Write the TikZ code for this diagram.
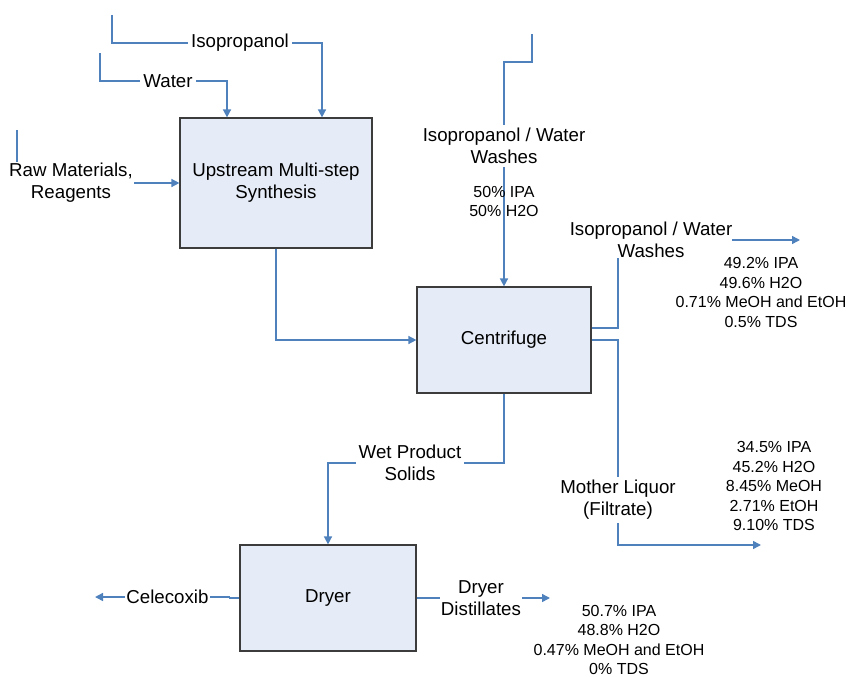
\documentclass[tikz,border=0pt]{standalone}
\usepackage{fontspec}
\setmainfont{Liberation Sans}
\usetikzlibrary{arrows.meta,positioning,calc}
\definecolor{flowc}{RGB}{79,129,189}
\definecolor{unitfill}{RGB}{230,236,247}
\definecolor{unitedge}{RGB}{60,60,60}

\begin{document}
\begin{tikzpicture}[x=1pt,y=-1pt,
    unit/.style={draw=unitedge,fill=unitfill,line width=1.2pt,align=center,
      font=\fontsize{18.7}{22}\selectfont,inner sep=0pt},
    lbl/.style={align=center,font=\fontsize{18.7}{22}\selectfont,inner sep=3pt},
    comp/.style={align=center,font=\fontsize{16}{19.5}\selectfont,inner sep=0pt},
    pipe/.style={draw=flowc,line width=1.5pt},
    flow/.style={pipe,-{Triangle[length=8pt,width=8pt]}}]
  \useasboundingbox (0,0) rectangle (846,677);
  % process units
  \node[unit,minimum width=192pt,minimum height=130pt] (upstream) at (276,183) {Upstream Multi-step\\Synthesis};
  \node[unit,minimum width=174pt,minimum height=106pt] (centrifuge) at (504,340) {Centrifuge};
  \node[unit,minimum width=176pt,minimum height=106pt] (dryer) at (328,598) {Dryer};
  % stream labels
  \node[lbl] (ipa) at (240,43) {Isopropanol};
  \node[lbl] (water) at (168,81) {Water};
  \node[lbl,inner sep=1pt] (raw) at (71,183) {Raw Materials,\\Reagents};
  \node[lbl] (washin) at (504,146) {Isopropanol / Water\\Washes};
  \node[lbl,inner sep=0pt] (washout) at (651,240) {Isopropanol / Water\\Washes};
  \node[lbl] (mother) at (618,500) {Mother Liquor\\(Filtrate)};
  \node[lbl] (wet) at (410,463) {Wet Product\\Solids};
  \node[lbl,inner sep=1pt] (celec) at (167.5,597) {Celecoxib};
  \node[lbl,inner sep=1pt] (dist) at (481,598) {Dryer\\Distillates};
  % free ends
  \coordinate (ipatop) at (112,15);
  \coordinate (watertop) at (100,53);
  \coordinate (rawtop) at (17,130);
  \coordinate (washtop) at (532,34);
  \coordinate (washend) at (800,240);
  \coordinate (motherend) at (761,545);
  \coordinate (celecend) at (95,597);
  \coordinate (distend) at (550,598);
  % feeds to upstream synthesis
  \draw[pipe] (ipatop) |- (ipa.west);
  \draw[flow] (ipa.east) -| ([xshift=46pt]upstream.north);
  \draw[pipe] (watertop) |- (water.west);
  \draw[flow] (water.east) -| ([xshift=-49pt]upstream.north);
  \draw[pipe] (rawtop) -- (rawtop |- raw.north);
  \draw[flow] (raw.east) -- (raw.east -| upstream.west);
  % synthesis to centrifuge
  \draw[flow] (upstream.south) |- (centrifuge.west);
  \draw[pipe] (washtop) -- ++(0,28) -| (washin.north);
  \draw[flow] (washin.south) -- (centrifuge.north);
  \node[comp] (washcomp) at (504,201.5) {50\% IPA\\50\% H2O};
  % centrifuge outlets
  \draw[pipe] ([yshift=12pt]centrifuge.east) -| ([xshift=-33pt]washout.south);
  \draw[flow] (washout.east) -- (washend);
  \node[comp] (washoutcomp) at (761,292.5) {49.2\% IPA\\49.6\% H2O\\0.71\% MeOH and EtOH\\0.5\% TDS};
  \draw[pipe] (centrifuge.east) -| (mother.north);
  \draw[flow] (mother.south) |- (motherend);
  \node[comp] (mothercomp) at (774,486) {34.5\% IPA\\45.2\% H2O\\8.45\% MeOH\\2.71\% EtOH\\9.10\% TDS};
  \draw[pipe] (centrifuge.south) |- (wet.east);
  \draw[flow] (wet.west) -| (dryer.north);
  % dryer outlets
  \draw[pipe] (dryer.west) -| ++(-10,-1) -- (celec.east);
  \draw[flow] (celec.west) -- (celecend);
  \draw[pipe] (dryer.east) -- (dist.west);
  \draw[flow] (dist.east) -- (distend);
  \node[comp] (distcomp) at (619,640) {50.7\% IPA\\48.8\% H2O\\0.47\% MeOH and EtOH\\0\% TDS};
\end{tikzpicture}
\end{document}
